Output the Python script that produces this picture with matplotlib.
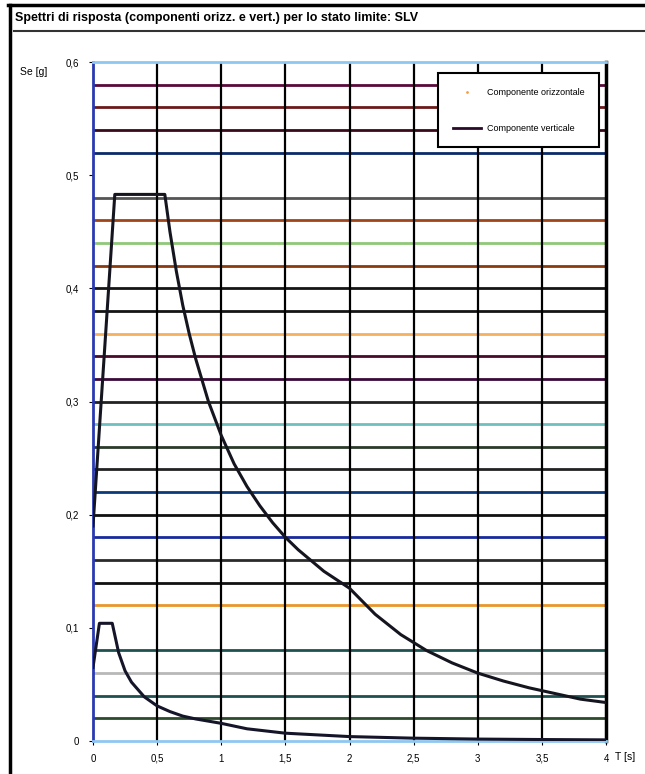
import matplotlib
matplotlib.use('Agg')
import matplotlib.pyplot as plt
from matplotlib.lines import Line2D

plt.rcParams['font.family'] = ['Liberation Sans', 'DejaVu Sans']

# spectra (T in s, Se in g)
t_oriz = [0, 0.17, 0.56, 0.6, 0.65, 0.7, 0.75, 0.8, 0.9, 1.0, 1.1, 1.2, 1.3,
          1.4, 1.5, 1.6, 1.8, 2.0, 2.2, 2.4, 2.6, 2.8, 3.0, 3.2, 3.4, 3.6,
          3.8, 4.0]
se_oriz = [0.19, 0.483, 0.483, 0.45, 0.415, 0.385, 0.36, 0.338, 0.30, 0.27,
           0.245, 0.225, 0.208, 0.193, 0.180, 0.169, 0.150, 0.135, 0.112,
           0.094, 0.080, 0.069, 0.060, 0.053, 0.047, 0.042, 0.037, 0.034]
t_vert = [0, 0.05, 0.15, 0.2, 0.25, 0.3, 0.4, 0.5, 0.6, 0.7, 0.8, 1.0, 1.2,
          1.5, 2.0, 2.5, 3.0, 3.5, 4.0]
se_vert = [0.065, 0.104, 0.104, 0.078, 0.062, 0.052, 0.039, 0.031, 0.026,
           0.022, 0.0195, 0.0156, 0.0108, 0.0069, 0.0039, 0.0025, 0.0017,
           0.0013, 0.001]

title = "Spettri di risposta (componenti orizz. e vert.) per lo stato limite: SLV"
labels = ["Componente orizzontale", "Componente verticale"]
x_ticks = [0, 0.5, 1, 1.5, 2, 2.5, 3, 3.5, 4]
x_ticklabels = ["0", "0,5", "1", "1,5", "2", "2,5", "3", "3,5", "4"]
y_ticks = [0, 0.1, 0.2, 0.3, 0.4, 0.5, 0.6]
y_ticklabels = ["0", "0,1", "0,2", "0,3", "0,4", "0,5", "0,6"]

# the horizontal lines across the plot (level, colour)
h_levels = [0.02, 0.04, 0.06, 0.08, 0.12, 0.14, 0.16, 0.18, 0.20, 0.22,
            0.24, 0.26, 0.28, 0.30, 0.32, 0.34, 0.36, 0.38, 0.40, 0.42,
            0.44, 0.46, 0.48, 0.52, 0.54, 0.56, 0.58]
h_colors = ['#2d4a2d', '#1f4f4f', '#b8b8b8', '#1f5050', '#e8962e', '#111111',
            '#2a2a2a', '#1a2a9a', '#111111', '#0a3a7a', '#222222', '#2b3b2b',
            '#6fbfbf', '#222222', '#3a0a3a', '#4a0a2a', '#f5b060', '#151515',
            '#151515', '#8b3a10', '#90c878', '#a0441a', '#555555', '#0a2a6a',
            '#3a0a1a', '#6a1a1a', '#5a0a3a']

fig = plt.figure(figsize=(6.45, 7.74), dpi=100)
ax = fig.add_axes([93/645, 1-741/774, 513/645, 679/774])

for lev, col in zip(h_levels, h_colors):
    ax.axhline(lev, color=col, lw=2, zorder=1)
for xv in x_ticks[1:-1]:
    ax.axvline(xv, color='black', lw=1.6, zorder=1)

ax.plot(t_oriz, se_oriz, color='#151520', lw=2.2, zorder=3)
ax.plot(t_vert, se_vert, color='#15152a', lw=2.2, zorder=3)

ax.set_xlim(0, 4)
ax.set_ylim(0, 0.6)
ax.set_xticks(x_ticks)
ax.set_xticklabels(x_ticklabels)
ax.set_yticks(y_ticks)
ax.set_yticklabels(y_ticklabels)
ax.tick_params(labelsize=7, length=3, width=0.8)
ax.tick_params(axis='y', pad=7)
ax.tick_params(axis='x', pad=6)

ax.spines['top'].set_color('#8ec8f0')
ax.spines['top'].set_linewidth(2)
ax.spines['bottom'].set_color('#8ec8f0')
ax.spines['bottom'].set_linewidth(2)
ax.spines['right'].set_color('black')
ax.spines['right'].set_linewidth(2.5)
ax.spines['left'].set_color('#2a3ab0')
ax.spines['left'].set_linewidth(2)

handles = [Line2D([], [], color='#f0a050', marker='.', ms=2, lw=0),
           Line2D([], [], color='#2a0a2a', lw=2)]
leg = ax.legend(handles, labels, loc='upper right', bbox_to_anchor=(0.995, 0.99),
                fontsize=6.5, frameon=True, fancybox=False, edgecolor='black',
                framealpha=1, borderpad=1.6, labelspacing=3.0, handlelength=3.2,
                handletextpad=0.6)
leg.get_frame().set_linewidth(1.5)

fig.text(20/645, 1-72/774, "Se [g]", fontsize=7.5, va='center')
fig.text(615/645, 1-757/774, "T [s]", fontsize=7.5, va='center')

# outer frame and title
fig.add_artist(Line2D([10/645, 10/645], [0, 1-5/774], color='black', lw=2.5))
fig.add_artist(Line2D([8/645, 1], [1-5/774, 1-5/774], color='black', lw=2.5))
fig.add_artist(Line2D([14/645, 1], [1-31/774, 1-31/774], color='#333333', lw=1.5))
fig.text(15/645, 1-18/774, title, fontsize=9, fontweight='bold', va='center')

fig.savefig('out.png', dpi=100)
